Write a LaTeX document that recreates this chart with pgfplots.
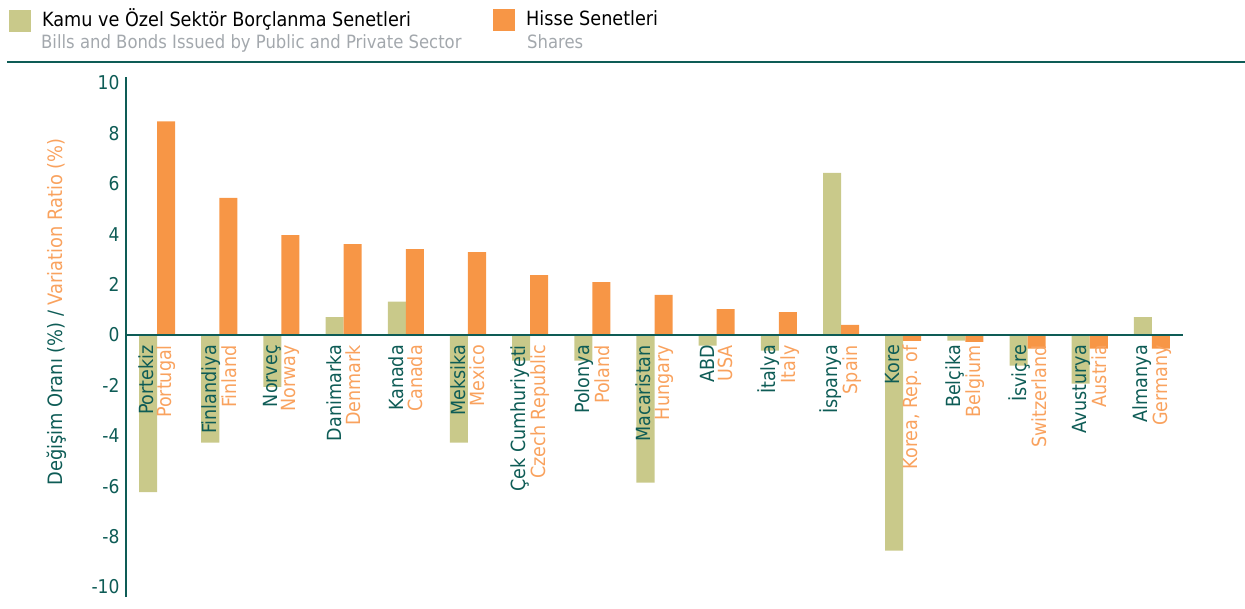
\documentclass[border=0pt]{standalone}
\usepackage{fontspec}
\setmainfont{DejaVu Sans Condensed}
\usepackage{pgfplots}
\usepackage{pgfplotstable}
\pgfplotsset{compat=1.18}
\definecolor{tealc}{HTML}{0E5C56}
\definecolor{orng}{HTML}{F79646}
\definecolor{orngl}{HTML}{F9A25E}
\definecolor{khaki}{HTML}{C9C98A}
\definecolor{lgray}{HTML}{A3A8AD}
\pgfplotstableread{
x g o
0 -6.24 8.48
1 -4.27 5.44
2 -2.06 3.96
3 0.71 3.61
4 1.32 3.41
5 -4.27 3.29
6 -1.02 2.38
7 -1.02 2.10
8 -5.86 1.59
9 -0.42 1.03
10 -0.62 0.91
11 6.43 0.40
12 -8.56 -0.23
13 -0.22 -0.27
14 -1.22 -0.54
15 -1.93 -0.54
16 0.71 -0.54
}\datatable
\newcommand{\tl}[2]{\textcolor{tealc}{#1}\\\textcolor{orngl}{#2}}
\begin{document}
\begin{tikzpicture}
\useasboundingbox (0pt,0pt) rectangle (1245pt,-608pt);
% legend
\fill[khaki] (9pt,-10pt) rectangle (31pt,-32pt);
\node[anchor=base west,inner sep=0pt,font=\fontsize{19.6}{19}\selectfont] at (42pt,-26pt) {Kamu ve Özel Sektör Borçlanma Senetleri};
\node[anchor=base west,inner sep=0pt,font=\fontsize{18.3}{19}\selectfont,text=lgray] at (41pt,-48pt) {Bills and Bonds Issued by Public and Private Sector};
\fill[orng] (493pt,-9pt) rectangle (515pt,-31pt);
\node[anchor=base west,inner sep=0pt,font=\fontsize{19.6}{19}\selectfont] at (526pt,-25pt) {Hisse Senetleri};
\node[anchor=base west,inner sep=0pt,font=\fontsize{18.3}{19}\selectfont,text=lgray] at (527pt,-48pt) {Shares};
\draw[tealc,line width=2.5pt] (7pt,-62pt) -- (1245pt,-62pt);
% y label
\node[rotate=90,inner sep=0pt,font=\fontsize{19.8}{19}\selectfont] at (57pt,-312pt) {\textcolor{tealc}{Değişim Oranı (\%) /} \textcolor{orngl}{Variation Ratio (\%)}};
\begin{axis}[
  at={(126pt,-597pt)}, anchor=south west,
  scale only axis, width=1057pt, height=520pt,
  xmin=-0.5, xmax=16.5, ymin=-10.4, ymax=10.24,
  axis x line=middle, axis y line=left,
  axis line style={tealc,line width=2.5pt,-},
  axis on top,
  major tick length=0pt,
  ybar=0pt, bar width=0.29,
  ytick={-10,-8,...,10},
  /pgf/number format/assume math mode=true,
  yticklabel style={font=\fontsize{19}{19}\selectfont,text=tealc,xshift=-3pt},
  xtick=data,
  xticklabels={
    {\tl{Portekiz}{Portugal}},
    {\tl{Finlandiya}{Finland}},
    {\tl{Norveç}{Norway}},
    {\tl{Danimarka}{Denmark}},
    {\tl{Kanada}{Canada}},
    {\tl{Meksika}{Mexico}},
    {\tl{Çek Cumhuriyeti}{Czech Republic}},
    {\tl{Polonya}{Poland}},
    {\tl{Macaristan}{Hungary}},
    {\tl{ABD}{USA}},
    {\tl{İtalya}{Italy}},
    {\tl{İspanya}{Spain}},
    {\tl{Kore}{Korea, Rep. of}},
    {\tl{Belçika}{Belgium}},
    {\tl{İsviçre}{Switzerland}},
    {\tl{Avusturya}{Austria}},
    {\tl{Almanya}{Germany}}},
  xticklabel style={rotate=90,anchor=east,align=right,font=\fontsize{19.5}{18.5}\selectfont,inner sep=0pt,xshift=-10pt},
]
\addplot[fill=khaki,draw=none] table[x=x,y=g]{\datatable};
\addplot[fill=orng,draw=none] table[x=x,y=o]{\datatable};
\end{axis}
\end{tikzpicture}
\end{document}
